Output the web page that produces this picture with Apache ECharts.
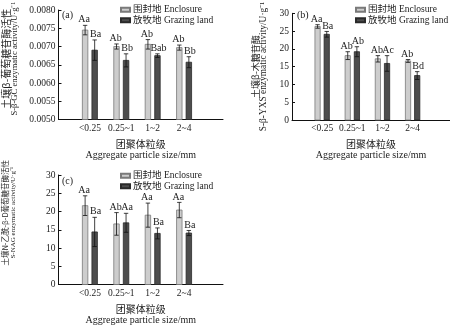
<!DOCTYPE html>
<html><head><meta charset="utf-8">
<script src="https://cdn.jsdelivr.net/npm/echarts@6/dist/echarts.min.js"></script>
<style>html,body{margin:0;padding:0;background:#fff}#c{width:450px;height:326px}</style>
</head><body><div id="c"></div>
<script>
// ---- data ----
const categories = ['<0.25', '0.25~1', '1~2', '2~4'];
const seriesNames = ['围封地 Enclosure', '放牧地 Grazing land'];

// (a) S-β-GC
const gcEnclosure = [0.00745, 0.00700, 0.00706, 0.00697];
const gcEnclosureErr = [0.00013, 0.00007, 0.00013, 0.00007];
const gcEnclosureSig = ['Aa', 'Ab', 'Ab', 'Ab'];
const gcGrazing = [0.00690, 0.00662, 0.00675, 0.00657];
const gcGrazingErr = [0.00028, 0.00018, 0.00005, 0.00015];
const gcGrazingSig = ['Ba', 'Bb', 'Bab', 'Bb'];

// (b) S-β-YXS
const yxsEnclosure = [26.3, 18.1, 17.2, 16.6];
const yxsEnclosureErr = [0.5, 1.1, 0.9, 0.4];
const yxsEnclosureSig = ['Aa', 'Ab', 'Ab', 'Ab'];
const yxsGrazing = [24.1, 19.2, 15.9, 12.5];
const yxsGrazingErr = [0.8, 1.4, 2.2, 1.1];
const yxsGrazingSig = ['Ba', 'Ab', 'Ac', 'Bd'];

// (c) S-NAG
const nagEnclosure = [21.6, 16.6, 19.0, 20.4];
const nagEnclosureErr = [2.7, 3.1, 3.3, 2.1];
const nagEnclosureSig = ['Aa', 'Ab', 'Aa', 'Aa'];
const nagGrazing = [14.4, 16.9, 14.0, 14.1];
const nagGrazingErr = [4.0, 2.6, 1.5, 0.7];
const nagGrazingSig = ['Ba', 'Aa', 'Ba', 'Ba'];

// ---- styles ----
const SERIF = "'Liberation Serif', 'Noto Sans CJK SC', serif";
const CJK = "'Noto Sans CJK SC', 'Liberation Serif', sans-serif";
const encStyle = { color: '#cdcdcd', borderColor: '#7a7a7a', borderWidth: 0.8 };
const grzStyle = { color: '#4d4d4d', borderColor: '#2a2a2a', borderWidth: 0.8 };

function barSeries(name, idx, vals, errs, sigs, side, style, yMin) {
  return {
    type: 'custom', name: name, xAxisIndex: idx, yAxisIndex: idx,
    itemStyle: style, encode: { x: 0, y: 1 }, clip: false,
    data: vals.map((v, i) => [i + 1, v, errs[i]]),
    renderItem: function (params, api) {
      const x = api.value(0), v = api.value(1), e = api.value(2);
      const unit = api.size([1, 0])[0];
      const p = api.coord([x, v]);
      const cx = p[0] + side * 0.152 * unit;
      const w = 0.175 * unit;
      const base = api.coord([x, yMin])[1];
      const eT = api.coord([x, v + e])[1];
      const eB = api.coord([x, v - e])[1];
      const cap = 2.2;
      const ls = { stroke: '#111', lineWidth: 0.8 };
      return { type: 'group', children: [
        { type: 'rect', shape: { x: cx - w / 2, y: p[1], width: w, height: base - p[1] },
          style: { fill: style.color, stroke: style.borderColor, lineWidth: style.borderWidth } },
        { type: 'line', shape: { x1: cx, y1: eT, x2: cx, y2: eB }, style: ls },
        { type: 'line', shape: { x1: cx - cap, y1: eT, x2: cx + cap, y2: eT }, style: ls },
        { type: 'line', shape: { x1: cx - cap, y1: eB, x2: cx + cap, y2: eB }, style: ls },
        { type: 'text', x: cx + side * 1, y: eT - 0.5,
          style: { text: sigs[params.dataIndex], align: 'center', verticalAlign: 'bottom',
                   fontSize: 10, fontFamily: SERIF, fill: '#222' } }
      ] };
    }
  };
}

function xAxisFor(idx) {
  return {
    type: 'value', gridIndex: idx, min: 0, max: 5.24, interval: 1,
    axisLine: { lineStyle: { color: '#111', width: 1 } },
    axisTick: { show: false }, splitLine: { show: false },
    axisLabel: { formatter: v => categories[v - 1] || '', margin: 4, fontSize: 9.5, fontFamily: SERIF, color: '#222', showMaxLabel: false },
    name: '{cn|团聚体粒级}\n{en|Aggregate particle size/mm}',
    nameLocation: 'middle', nameGap: 19,
    nameTextStyle: { rich: {
      cn: { fontSize: 10, fontFamily: CJK, lineHeight: 11, color: '#222' },
      en: { fontSize: 10, fontFamily: SERIF, lineHeight: 11, color: '#222' } } }
  };
}

function yAxisFor(idx, min, max, interval, dec, cn, en, cnSize, enSize, gap, shift, lh) {
  return {
    type: 'value', gridIndex: idx, min: min, max: max, interval: interval,
    axisLine: { show: true, lineStyle: { color: '#111', width: 1 } },
    axisTick: { show: true, inside: true, length: 3, lineStyle: { color: '#111' } },
    splitLine: { show: false },
    axisLabel: { formatter: v => v.toFixed(dec), margin: 3, fontSize: 9.5, fontFamily: SERIF, color: '#222' },
    name: '{cn|' + cn + '}\n{en|' + en + '}',
    nameLocation: 'middle', nameGap: gap, nameRotate: 90,
    nameTextStyle: { padding: [0, 0, 0, shift], rich: {
      cn: { fontSize: cnSize, fontFamily: CJK, lineHeight: lh, color: '#222' },
      en: { fontSize: enSize, fontFamily: SERIF, lineHeight: lh, color: '#222' } } }
  };
}

function legendAt(left, top) {
  return { left: left, top: top, orient: 'vertical', icon: 'rect', itemWidth: 9, itemHeight: 4,
    itemGap: 1, padding: 0, selectedMode: false, data: seriesNames,
    textStyle: { fontSize: 9.5, fontFamily: SERIF, color: '#222', padding: [0, 0, 0, -2] } };
}

const option = {
  animation: false,
  backgroundColor: '#fff',
  title: [
    { text: '(a)', left: 62, top: 10, padding: 0, textStyle: { fontSize: 10, fontWeight: 'normal', fontFamily: SERIF, color: '#222' } },
    { text: '(b)', left: 297, top: 10, padding: 0, textStyle: { fontSize: 10, fontWeight: 'normal', fontFamily: SERIF, color: '#222' } },
    { text: '(c)', left: 62, top: 176, padding: 0, textStyle: { fontSize: 10, fontWeight: 'normal', fontFamily: SERIF, color: '#222' } }
  ],
  legend: [legendAt(120, 5), legendAt(355, 5), legendAt(120, 171)],
  grid: [
    { left: 58, top: 7, width: 165, height: 112.5 },
    { left: 292, top: 10, width: 165, height: 110 },
    { left: 58, top: 175, width: 165, height: 111 }
  ],
  xAxis: [xAxisFor(0), xAxisFor(1), xAxisFor(2)],
  yAxis: [
    yAxisFor(0, 0.005, 0.008, 0.0005, 4, '土壤β-葡萄糖苷酶活性', 'S-β-GC enzymatic activity/U·g⁻¹', 10, 8.6, 39, 12, 9),
    yAxisFor(1, 0, 30, 5, 0, '土壤β-木糖苷酶', 'S-β-YXS enzymatic activity/U·g⁻¹', 9, 9.4, 24, 0, 8.5),
    yAxisFor(2, 0, 30, 5, 0, '土壤N-乙酰-β-D葡萄糖苷酶活性', 'S-NAG enzymatic activity/U·g⁻¹', 7.5, 7, 41, 34, 8.5)
  ],
  series: [
    barSeries(seriesNames[0], 0, gcEnclosure, gcEnclosureErr, gcEnclosureSig, -1, encStyle, 0.005),
    barSeries(seriesNames[1], 0, gcGrazing, gcGrazingErr, gcGrazingSig, 1, grzStyle, 0.005),
    barSeries(seriesNames[0], 1, yxsEnclosure, yxsEnclosureErr, yxsEnclosureSig, -1, encStyle, 0),
    barSeries(seriesNames[1], 1, yxsGrazing, yxsGrazingErr, yxsGrazingSig, 1, grzStyle, 0),
    barSeries(seriesNames[0], 2, nagEnclosure, nagEnclosureErr, nagEnclosureSig, -1, encStyle, 0),
    barSeries(seriesNames[1], 2, nagGrazing, nagGrazingErr, nagGrazingSig, 1, grzStyle, 0)
  ]
};
echarts.init(document.getElementById('c'), null, { renderer: 'canvas' }).setOption(option);
</script>
</body></html>
